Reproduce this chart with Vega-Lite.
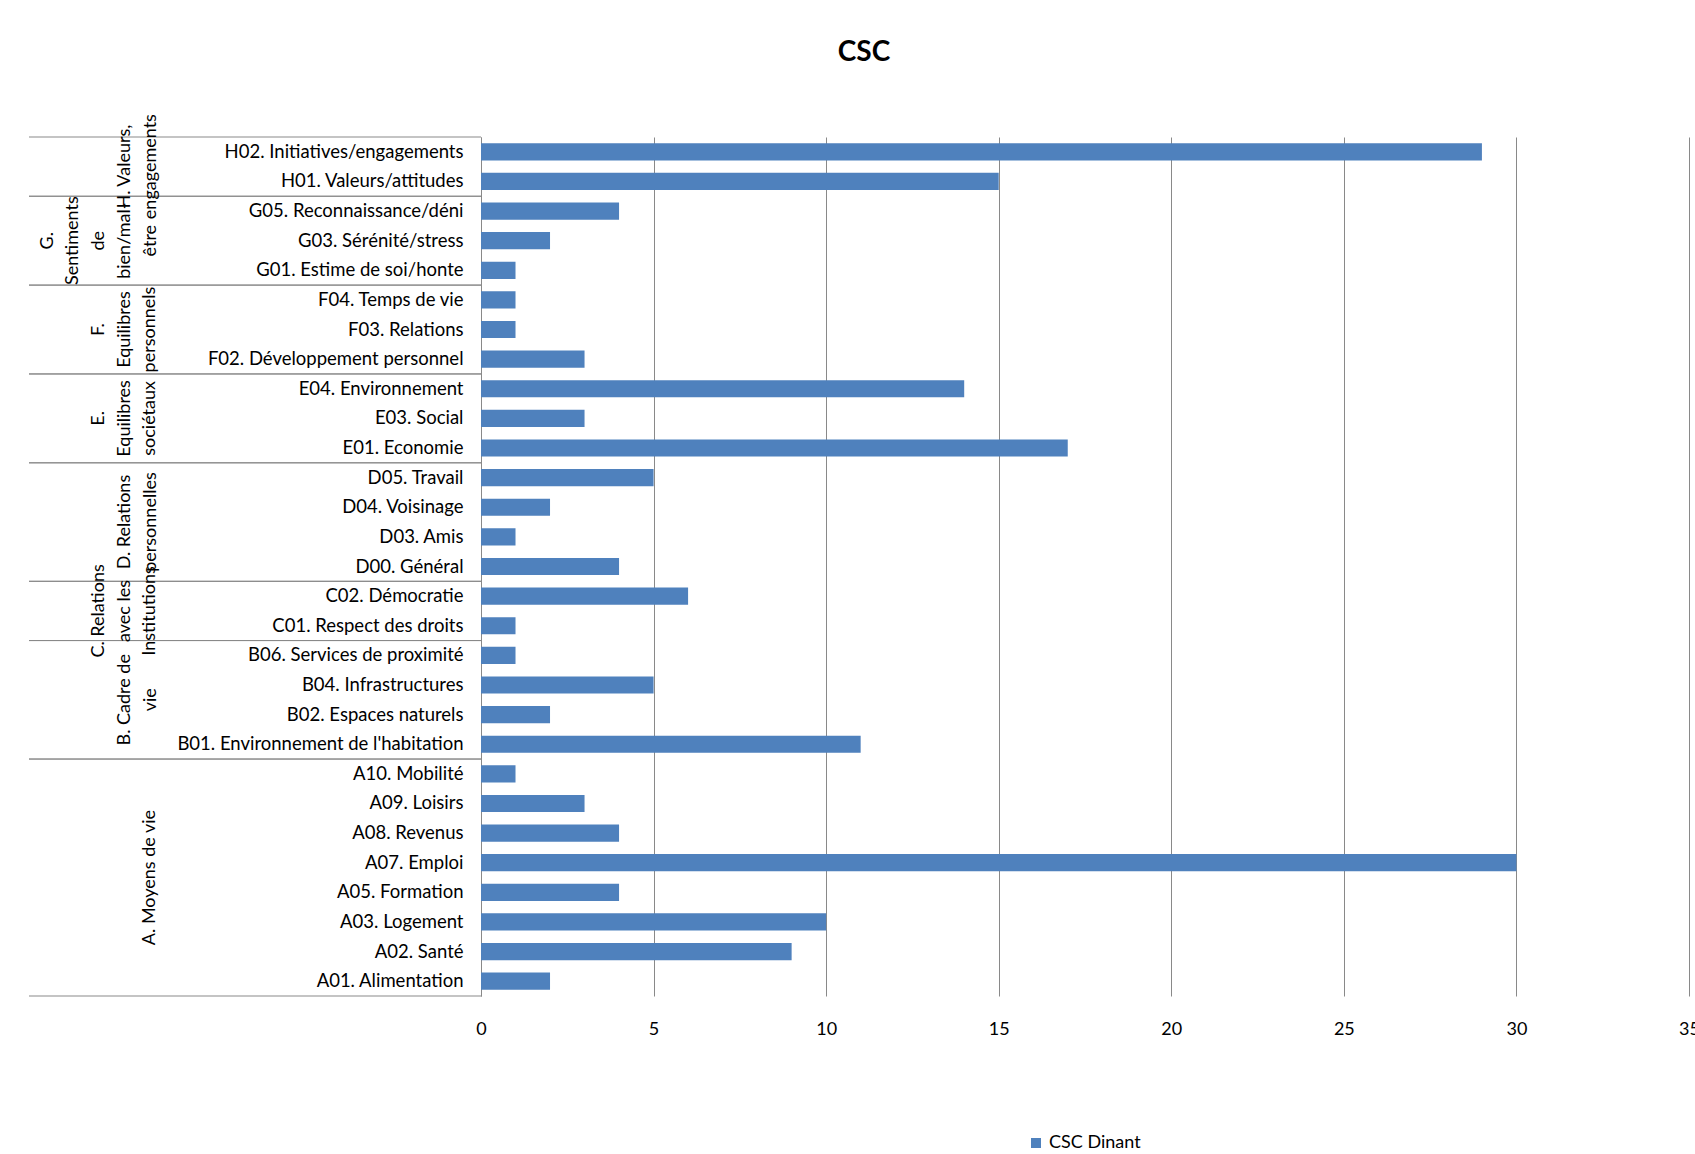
{
  "$schema": "https://vega.github.io/schema/vega-lite/v6.json",
  "background": "white",
  "padding": {"left": 28, "top": 39, "right": 0, "bottom": 0},
  "autosize": {"type": "pad"},
  "config": {
    "view": {"stroke": null},
    "font": "Lato",
    "text": {"font": "Lato"}
  },
  "title": {
    "text": "CSC",
    "font": "Lato",
    "fontSize": 28,
    "fontWeight": "bold",
    "color": "black",
    "anchor": "middle",
    "offset": 47
  },
  "datasets": {
    "indicateurs": [
      {"domaine": "H. Valeurs,\nengagements", "indicateur": "H02. Initiatives/engagements", "valeur": 29},
      {"domaine": "H. Valeurs,\nengagements", "indicateur": "H01. Valeurs/attitudes", "valeur": 15},
      {"domaine": "G.\nSentiments\nde\nbien/mal-\nêtre", "indicateur": "G05. Reconnaissance/déni", "valeur": 4},
      {"domaine": "G.\nSentiments\nde\nbien/mal-\nêtre", "indicateur": "G03. Sérénité/stress", "valeur": 2},
      {"domaine": "G.\nSentiments\nde\nbien/mal-\nêtre", "indicateur": "G01. Estime de soi/honte", "valeur": 1},
      {"domaine": "F.\nEquilibres\npersonnels", "indicateur": "F04. Temps de vie", "valeur": 1},
      {"domaine": "F.\nEquilibres\npersonnels", "indicateur": "F03. Relations", "valeur": 1},
      {"domaine": "F.\nEquilibres\npersonnels", "indicateur": "F02. Développement personnel", "valeur": 3},
      {"domaine": "E.\nEquilibres\nsociétaux", "indicateur": "E04. Environnement", "valeur": 14},
      {"domaine": "E.\nEquilibres\nsociétaux", "indicateur": "E03. Social", "valeur": 3},
      {"domaine": "E.\nEquilibres\nsociétaux", "indicateur": "E01. Economie", "valeur": 17},
      {"domaine": "D. Relations\npersonnelles", "indicateur": "D05. Travail", "valeur": 5},
      {"domaine": "D. Relations\npersonnelles", "indicateur": "D04. Voisinage", "valeur": 2},
      {"domaine": "D. Relations\npersonnelles", "indicateur": "D03. Amis", "valeur": 1},
      {"domaine": "D. Relations\npersonnelles", "indicateur": "D00. Général", "valeur": 4},
      {"domaine": "C. Relations\navec les\nInstitutions", "indicateur": "C02. Démocratie", "valeur": 6},
      {"domaine": "C. Relations\navec les\nInstitutions", "indicateur": "C01. Respect des droits", "valeur": 1},
      {"domaine": "B. Cadre de\nvie", "indicateur": "B06. Services de proximité", "valeur": 1},
      {"domaine": "B. Cadre de\nvie", "indicateur": "B04. Infrastructures", "valeur": 5},
      {"domaine": "B. Cadre de\nvie", "indicateur": "B02. Espaces naturels", "valeur": 2},
      {"domaine": "B. Cadre de\nvie", "indicateur": "B01. Environnement de l'habitation", "valeur": 11},
      {"domaine": "A. Moyens de vie", "indicateur": "A10. Mobilité", "valeur": 1},
      {"domaine": "A. Moyens de vie", "indicateur": "A09. Loisirs", "valeur": 3},
      {"domaine": "A. Moyens de vie", "indicateur": "A08. Revenus", "valeur": 4},
      {"domaine": "A. Moyens de vie", "indicateur": "A07. Emploi", "valeur": 30},
      {"domaine": "A. Moyens de vie", "indicateur": "A05. Formation", "valeur": 4},
      {"domaine": "A. Moyens de vie", "indicateur": "A03. Logement", "valeur": 10},
      {"domaine": "A. Moyens de vie", "indicateur": "A02. Santé", "valeur": 9},
      {"domaine": "A. Moyens de vie", "indicateur": "A01. Alimentation", "valeur": 2}
    ]
  },
  "spacing": 0,
  "bounds": "flush",
  "resolve": {"scale": {"y": "shared", "x": "independent"}},
  "hconcat": [
    {
      "width": 452,
      "height": 859,
      "data": {"name": "indicateurs"},
      "transform": [
        {"window": [{"op": "row_number", "as": "rang"}], "groupby": ["domaine"]},
        {"joinaggregate": [{"op": "count", "as": "nb"}], "groupby": ["domaine"]}
      ],
      "layer": [
        {
          "mark": {"type": "rule", "color": "#898989", "strokeWidth": 1},
          "encoding": {
            "y": {"field": "indicateur", "type": "nominal", "sort": null, "bandPosition": 0, "axis": null},
            "x": {"datum": 0, "type": "quantitative", "scale": {"domain": [0, 1], "nice": false}, "axis": null},
            "x2": {"datum": 1},
            "opacity": {"condition": {"test": "datum.rang === 1", "value": 1}, "value": 0}
          }
        },
        {
          "mark": {"type": "rule", "color": "#898989", "strokeWidth": 1},
          "encoding": {
            "y": {"field": "indicateur", "type": "nominal", "sort": null, "bandPosition": 1, "axis": null},
            "x": {"datum": 0, "type": "quantitative"},
            "x2": {"datum": 1},
            "opacity": {"condition": {"test": "datum.rang === datum.nb", "value": 1}, "value": 0}
          }
        },
        {
          "mark": {"type": "text", "angle": 270, "align": "center", "baseline": "bottom", "lineBreak": "\n", "lineHeight": 25.7, "fontSize": 18, "color": "black"},
          "encoding": {
            "y": {"field": "indicateur", "type": "nominal", "sort": null, "bandPosition": 0.5, "axis": null},
            "x": {"datum": 0.175, "type": "quantitative"},
            "text": {"condition": {"test": "datum.nb % 2 === 1 && datum.rang === (datum.nb + 1) / 2 && split(datum.domaine, '\\n').length === 3", "field": "domaine", "type": "nominal"}, "value": ""}
          }
        },
        {
          "mark": {"type": "text", "angle": 270, "align": "center", "baseline": "bottom", "lineBreak": "\n", "lineHeight": 25.7, "fontSize": 18, "color": "black"},
          "encoding": {
            "y": {"field": "indicateur", "type": "nominal", "sort": null, "bandPosition": 0.5, "axis": null},
            "x": {"datum": 0.0613, "type": "quantitative"},
            "text": {"condition": {"test": "datum.nb % 2 === 1 && datum.rang === (datum.nb + 1) / 2 && split(datum.domaine, '\\n').length === 5", "field": "domaine", "type": "nominal"}, "value": ""}
          }
        },
        {
          "mark": {"type": "text", "angle": 270, "align": "center", "baseline": "bottom", "lineBreak": "\n", "lineHeight": 25.7, "fontSize": 18, "color": "black"},
          "encoding": {
            "y": {"field": "indicateur", "type": "nominal", "sort": null, "bandPosition": 0, "axis": null},
            "x": {"datum": 0.2887, "type": "quantitative"},
            "text": {"condition": {"test": "datum.nb % 2 === 0 && datum.rang === datum.nb / 2 + 1 && split(datum.domaine, '\\n').length === 1", "field": "domaine", "type": "nominal"}, "value": ""}
          }
        },
        {
          "mark": {"type": "text", "angle": 270, "align": "center", "baseline": "bottom", "lineBreak": "\n", "lineHeight": 25.7, "fontSize": 18, "color": "black"},
          "encoding": {
            "y": {"field": "indicateur", "type": "nominal", "sort": null, "bandPosition": 0, "axis": null},
            "x": {"datum": 0.2319, "type": "quantitative"},
            "text": {"condition": {"test": "datum.nb % 2 === 0 && datum.rang === datum.nb / 2 + 1 && split(datum.domaine, '\\n').length === 2", "field": "domaine", "type": "nominal"}, "value": ""}
          }
        },
        {
          "mark": {"type": "text", "angle": 270, "align": "center", "baseline": "bottom", "lineBreak": "\n", "lineHeight": 25.7, "fontSize": 18, "color": "black"},
          "encoding": {
            "y": {"field": "indicateur", "type": "nominal", "sort": null, "bandPosition": 0, "axis": null},
            "x": {"datum": 0.175, "type": "quantitative"},
            "text": {"condition": {"test": "datum.nb % 2 === 0 && datum.rang === datum.nb / 2 + 1 && split(datum.domaine, '\\n').length === 3", "field": "domaine", "type": "nominal"}, "value": ""}
          }
        }
      ]
    },
    {
      "width": 1208,
      "height": 859,
      "data": {"name": "indicateurs"},
      "mark": {"type": "bar", "height": {"band": 0.58}},
      "encoding": {
        "y": {
          "field": "indicateur",
          "type": "nominal",
          "sort": null,
          "scale": {"paddingInner": 0, "paddingOuter": 0},
          "axis": {
            "title": null,
            "orient": "left",
            "domain": true,
            "domainColor": "#898989",
            "domainWidth": 1,
            "ticks": false,
            "grid": false,
            "labelPadding": 18,
            "labelFont": "Lato",
            "labelFontSize": 18.5,
            "labelColor": "black",
            "labelLimit": 400
          }
        },
        "x": {
          "field": "valeur",
          "type": "quantitative",
          "scale": {"domain": [0, 35], "nice": false},
          "axis": {
            "title": null,
            "values": [0, 5, 10, 15, 20, 25, 30, 35],
            "domain": false,
            "ticks": false,
            "grid": true,
            "gridColor": "#898989",
            "gridWidth": 1,
            "labelPadding": 24,
            "labelFont": "Lato",
            "labelFontSize": 18,
            "labelColor": "black",
            "labelFlush": false
          }
        },
        "color": {
          "datum": "CSC Dinant",
          "type": "nominal",
          "scale": {"range": ["#4F81BD"]},
          "legend": {
            "title": null,
            "orient": "none",
            "legendX": 998,
            "legendY": 997,
            "direction": "horizontal",
            "symbolType": "square",
            "symbolSize": 100,
            "symbolStrokeWidth": 0,
            "labelFont": "Lato",
            "labelFontSize": 18,
            "labelColor": "black",
            "labelOffset": 4,
            "padding": 0
          }
        }
      }
    }
  ]
}
